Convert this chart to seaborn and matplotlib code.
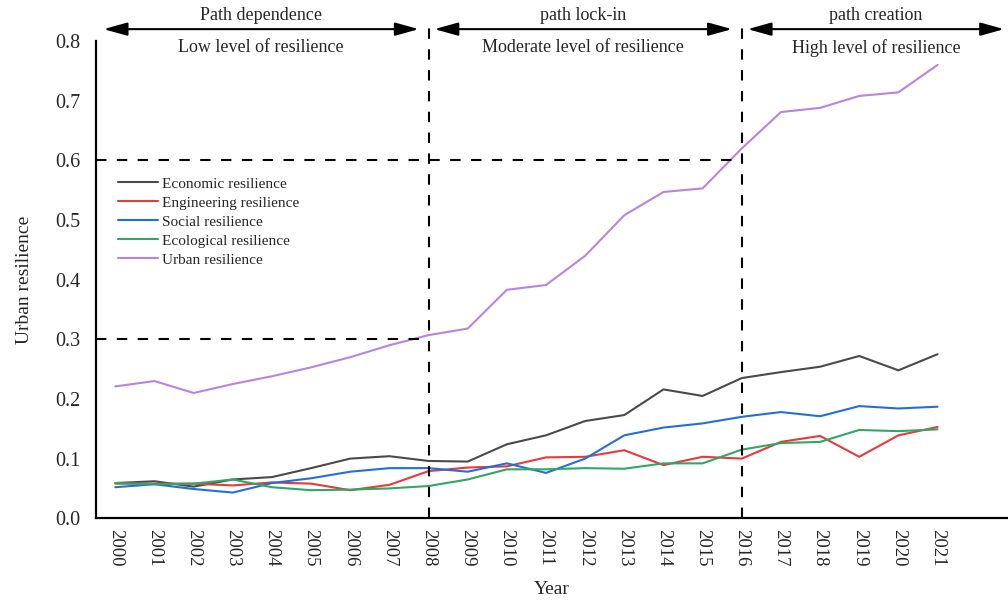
import matplotlib
matplotlib.use("Agg")
import matplotlib.pyplot as plt
import seaborn as sns
import pandas as pd

years = list(range(2000, 2022))

economic = [0.059, 0.062, 0.053, 0.065, 0.069, 0.084, 0.100, 0.104, 0.096, 0.095, 0.124,
            0.139, 0.163, 0.173, 0.216, 0.205, 0.235, 0.245, 0.254, 0.272, 0.248, 0.275]
engineering = [0.058, 0.058, 0.058, 0.055, 0.060, 0.058, 0.047, 0.056, 0.079, 0.085, 0.087,
               0.102, 0.103, 0.114, 0.089, 0.103, 0.100, 0.128, 0.138, 0.103, 0.139, 0.153]
social = [0.052, 0.057, 0.049, 0.043, 0.059, 0.067, 0.078, 0.084, 0.084, 0.078, 0.092,
          0.076, 0.100, 0.139, 0.152, 0.159, 0.170, 0.178, 0.171, 0.188, 0.184, 0.187]
ecological = [0.059, 0.057, 0.058, 0.065, 0.052, 0.047, 0.048, 0.050, 0.054, 0.065, 0.082,
              0.082, 0.084, 0.083, 0.092, 0.092, 0.115, 0.126, 0.128, 0.148, 0.146, 0.149]
urban = [0.221, 0.230, 0.210, 0.225, 0.238, 0.253, 0.270, 0.290, 0.307, 0.318, 0.383,
         0.391, 0.440, 0.508, 0.547, 0.553, 0.620, 0.681, 0.688, 0.708, 0.714, 0.760]

series_names = ["Economic resilience", "Engineering resilience", "Social resilience",
                "Ecological resilience", "Urban resilience"]
series_values = [economic, engineering, social, ecological, urban]
colors = ["#4a4a4a", "#e8393d", "#2170d8", "#2fa864", "#b585e6"]

phase_titles = ["Path dependence", "path lock-in", "path creation"]
phase_levels = ["Low level of resilience", "Moderate level of resilience", "High level of resilience"]
phase_bounds = [1999.6, 2008, 2016, 2022.75]
threshold_levels = [0.3, 0.6]
threshold_ends = [2008, 2016]

df = pd.DataFrame(
    [(y, v, n) for n, vals in zip(series_names, series_values) for y, v in zip(years, vals)],
    columns=["Year", "value", "series"],
)

sns.set_style("white")
plt.rcParams["font.family"] = ["Liberation Serif", "DejaVu Serif"]

fig = plt.figure(figsize=(10.08, 6.04), dpi=100)
ax = fig.add_axes([0.095, 0.142, 0.905, 0.79])

sns.lineplot(data=df, x="Year", y="value", hue="series", hue_order=series_names,
             palette=colors, linewidth=1.5, ax=ax)

ax.set_xlim(1999.5, 2022.8)
ax.set_ylim(0.0, 0.8)
ax.set_yticks([0.0, 0.1, 0.2, 0.3, 0.4, 0.5, 0.6, 0.7, 0.8])
ax.set_yticklabels([f"{t:.1f}" for t in ax.get_yticks()], fontsize=14.5)
ax.set_xticks(years)
ax.set_xticklabels([str(y) for y in years], rotation=-90, fontsize=13.5)
ax.tick_params(axis="x", direction="in", length=10, width=1.5, pad=8)
ax.tick_params(axis="y", direction="in", length=7, width=1.5, pad=11)

for s in ["top", "right"]:
    ax.spines[s].set_visible(False)
for s in ["left", "bottom"]:
    ax.spines[s].set_linewidth(1.6)
    ax.spines[s].set_color("black")

ax.set_xlabel("Year", fontsize=14, labelpad=10)
ax.set_ylabel("Urban resilience", fontsize=14, labelpad=16)

dash = (0, (5, 5))
for xv in threshold_ends:
    ax.plot([xv, xv], [0.0, 0.835], color="black", lw=1.5, linestyle=dash, clip_on=False)
for lvl, xe in zip(threshold_levels, threshold_ends):
    ax.plot([1999.5, xe], [lvl, lvl], color="black", lw=1.5, linestyle=dash, clip_on=False)

arrow_y = 0.82
gaps = [(0.1, -0.25), (0.15, -0.25), (0.15, -0.05)]
for i in range(3):
    x0 = phase_bounds[i] + gaps[i][0]
    x1 = phase_bounds[i + 1] + gaps[i][1]
    ax.annotate("", xy=(x1, arrow_y), xytext=(x0, arrow_y), xycoords="data",
                arrowprops=dict(arrowstyle="<|-|>,head_length=0.9,head_width=0.25",
                                color="black", lw=1.5, mutation_scale=16,
                                shrinkA=0, shrinkB=0),
                annotation_clip=False)
    xm = (x0 + x1) / 2
    ax.text(xm, arrow_y + 0.009, phase_titles[i], ha="center", va="bottom", fontsize=13)
    ax.text(xm, arrow_y - 0.016, phase_levels[i], ha="center", va="top", fontsize=13)

leg = ax.legend(loc="upper left", bbox_to_anchor=(0.018, 0.728), frameon=False,
                fontsize=11, handlelength=2.6, handletextpad=0.25, labelspacing=0.35,
                borderaxespad=0)

fig.savefig("out.png", dpi=100)
